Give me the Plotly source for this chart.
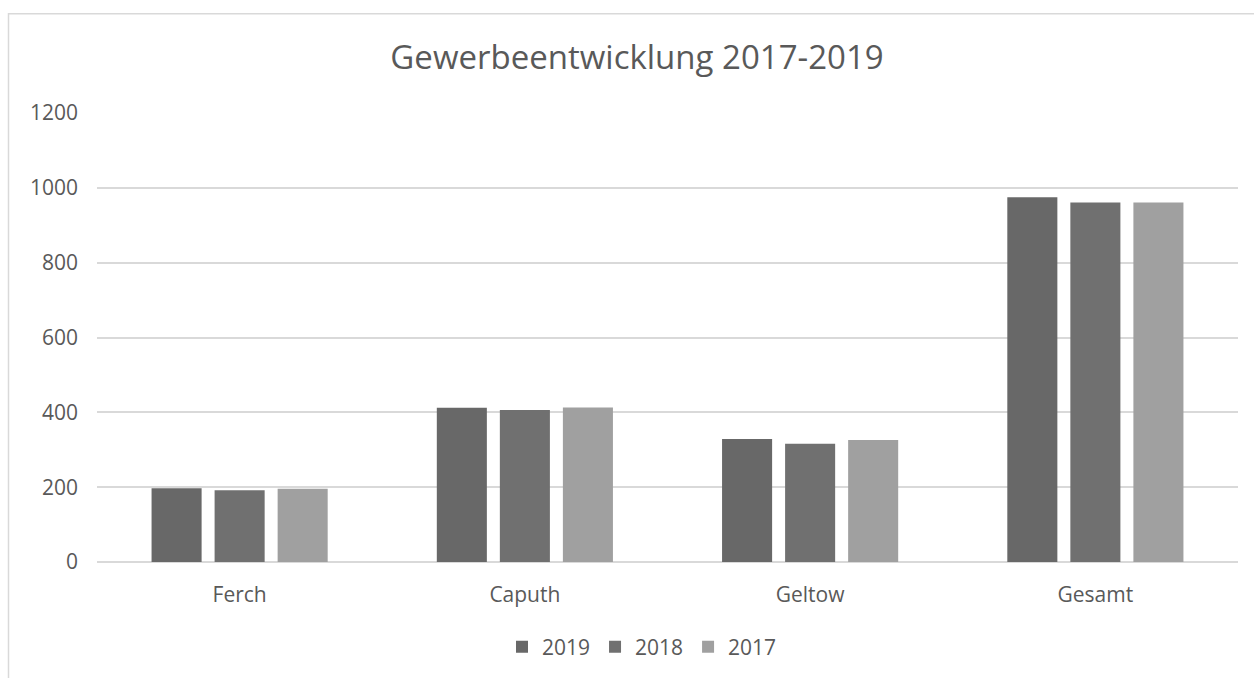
import plotly.graph_objects as go

categories = ["Ferch", "Caputh", "Geltow", "Gesamt"]
series_names = ["2019", "2018", "2017"]
values_2019 = [197, 412, 329, 975]
values_2018 = [192, 406, 316, 961]
values_2017 = [196, 413, 326, 961]
y_ticks = [0, 200, 400, 600, 800, 1000, 1200]

colors = {"2019": "#686868", "2018": "#707070", "2017": "#a0a0a0"}
series_values = {"2019": values_2019, "2018": values_2018, "2017": values_2017}

W, H = 1254, 678
L, R, T, B = 97, 16, 113, 115
PW, PH = W - L - R, H - T - B

def px(x):
    return (x - L) / PW

def py(y):
    return (H - B - y) / PH

fig = go.Figure()
for name in series_names:
    fig.add_trace(go.Bar(
        x=categories, y=series_values[name], name=name,
        marker=dict(color=colors[name], line=dict(width=0)),
    ))

txt = "#595959"
fig.update_layout(
    width=W, height=H,
    margin=dict(l=L, r=R, t=T, b=B),
    paper_bgcolor="white", plot_bgcolor="white",
    font=dict(family="Open Sans", size=21, color=txt),
    barmode="group", bargap=0.337, bargroupgap=0.206,
    title=dict(text="Gewerbeentwicklung 2017-2019", x=637 / W, xanchor="center",
               y=1 - 57 / H, yanchor="middle", xref="container", yref="container",
               font=dict(family="Open Sans", size=33, color=txt)),
    showlegend=True,
    legend=dict(orientation="h", x=px(642), xanchor="center", y=py(647), yanchor="middle",
                font=dict(size=21, color=txt), traceorder="normal"),
    xaxis=dict(showgrid=False, showline=False, ticks="", tickfont=dict(size=21, color=txt),
               ticklabelstandoff=18),
    yaxis=dict(range=[0, 1200], tickvals=y_ticks, showgrid=True, gridcolor="#d9d9d9",
               gridwidth=1.5, zeroline=True, zerolinecolor="#d9d9d9", zerolinewidth=1.5,
               showline=False, ticks="", tickfont=dict(size=21, color=txt),
               ticklabelstandoff=18),
    shapes=[dict(type="path", xref="paper", yref="paper",
                 path=f"M {px(8.5)},{py(700)} L {px(8.5)},{py(13.5)} L {px(1270)},{py(13.5)}",
                 line=dict(color="#d9d9d9", width=1.5))],
)

fig.write_html("out.html")
